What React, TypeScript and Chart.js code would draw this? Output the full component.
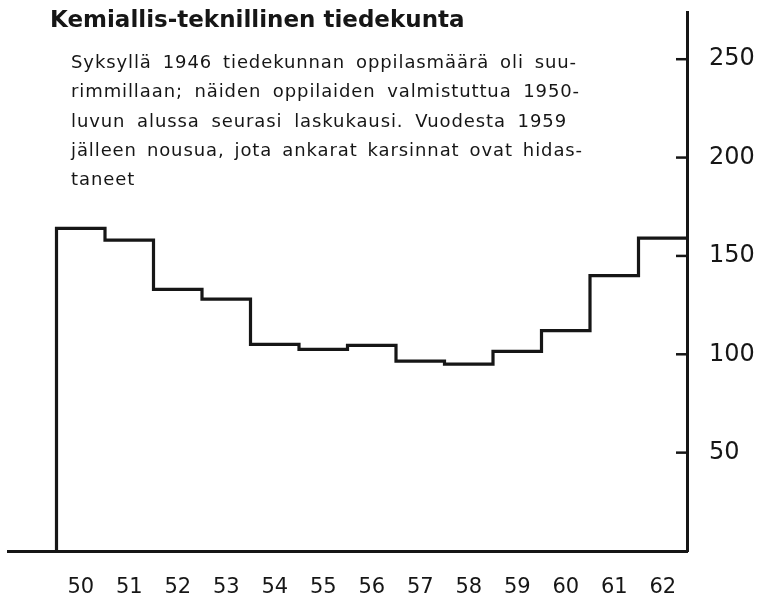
import React, { useEffect, useRef } from "react";
import { Chart, registerables } from "chart.js";

Chart.register(...registerables);

const years = [50, 51, 52, 53, 54, 55, 56, 57, 58, 59, 60, 61, 62];
const students = [164, 158, 133, 128, 105, 102.5, 104.5, 96.5, 95, 101.5, 112, 140, 159];
const yTicks = [50, 100, 150, 200, 250];

const titleText = "Kemiallis-teknillinen tiedekunta";
const noteLines = [
  "Syksyllä 1946 tiedekunnan oppilasmäärä oli suu-",
  "rimmillaan; näiden oppilaiden valmistuttua 1950-",
  "luvun alussa seurasi laskukausi. Vuodesta 1959",
  "jälleen nousua, jota ankarat karsinnat ovat hidas-",
  "taneet",
];
const noteWidths = [506, 509, 496, 512, 0];

const INK = "#161616";

const inwardTicks = {
  id: "inwardTicks",
  afterDraw(chart: any) {
    const { ctx, chartArea, scales } = chart;
    const y = scales.y;
    ctx.save();
    ctx.strokeStyle = INK;
    ctx.lineWidth = 2.5;
    for (const v of yTicks) {
      const py = y.getPixelForValue(v);
      ctx.beginPath();
      ctx.moveTo(chartArea.right - 11, py);
      ctx.lineTo(chartArea.right, py);
      ctx.stroke();
    }
    ctx.restore();
  },
};

export default function App() {
  const ref = useRef<HTMLCanvasElement | null>(null);

  useEffect(() => {
    if (!ref.current) return;
    const pts: { x: number; y: number }[] = [{ x: years[0] - 0.5, y: 0 }];
    years.forEach((yr, i) => pts.push({ x: yr - 0.5, y: students[i] }));
    pts.push({ x: years[years.length - 1] + 0.5, y: students[students.length - 1] });

    const zeroPad = (s: any) => {
      s.paddingTop = 0;
      s.paddingBottom = 0;
      s.paddingLeft = 0;
      s.paddingRight = 0;
    };

    const chart = new Chart(ref.current, {
      type: "line",
      data: {
        datasets: [
          {
            data: pts,
            stepped: "before",
            borderColor: INK,
            borderWidth: 3.2,
            pointRadius: 0,
            fill: false,
          },
        ],
      },
      options: {
        responsive: false,
        animation: false,
        layout: { padding: { left: 8, top: 12, right: 0, bottom: 0 } },
        plugins: { legend: { display: false }, tooltip: { enabled: false }, title: { display: false } },
        scales: {
          x: {
            type: "linear",
            min: years[0] - 1.5,
            max: years[years.length - 1] + 0.5,
            grid: { display: false, drawTicks: false },
            border: { display: true, color: INK, width: 3 },
            afterBuildTicks: (s: any) => {
              s.ticks = years.map((v) => ({ value: v }));
            },
            afterFit: (s: any) => {
              s.height = 50;
              zeroPad(s);
            },
            ticks: {
              padding: 24,
              color: INK,
              font: { family: "DejaVu Sans", size: 21 },
              callback: (v: any) => String(v),
              maxRotation: 0,
              autoSkip: false,
            },
          },
          y: {
            position: "right",
            min: 0,
            max: 274,
            grid: { display: false, drawTicks: false },
            border: { display: true, color: INK, width: 3 },
            afterBuildTicks: (s: any) => {
              s.ticks = yTicks.map((v) => ({ value: v }));
            },
            afterFit: (s: any) => {
              s.width = 82;
              zeroPad(s);
            },
            ticks: {
              padding: 22,
              color: INK,
              font: { family: "DejaVu Sans", size: 24 },
              callback: (v: any) => String(v),
            },
          },
        },
      },
      plugins: [inwardTicks],
    } as any);
    return () => chart.destroy();
  }, []);

  return (
    <div style={{ position: "fixed", left: 0, top: 0, width: 769, height: 601, background: "#fff", overflow: "hidden" }}>
      <canvas ref={ref} width={769} height={601} style={{ position: "absolute", left: 0, top: 0, width: 769, height: 601 }} />
      <div
        style={{
          position: "absolute",
          left: 50,
          top: 6,
          fontFamily: "DejaVu Sans",
          fontWeight: "bold",
          fontSize: 23,
          lineHeight: "27px",
          color: INK,
          whiteSpace: "nowrap",
        }}
      >
        {titleText}
      </div>
      {noteLines.map((line, i) => (
        <div
          key={i}
          style={{
            position: "absolute",
            left: 71,
            top: 51 + i * 29.25,
            width: noteWidths[i] || undefined,
            fontFamily: "DejaVu Sans",
            fontSize: 18,
            letterSpacing: "0.9px",
            lineHeight: "22px",
            color: INK,
            whiteSpace: "nowrap",
            textAlign: noteWidths[i] ? "justify" : "left",
            textAlignLast: noteWidths[i] ? "justify" : "left",
          } as any}
        >
          {line}
        </div>
      ))}
    </div>
  );
}
